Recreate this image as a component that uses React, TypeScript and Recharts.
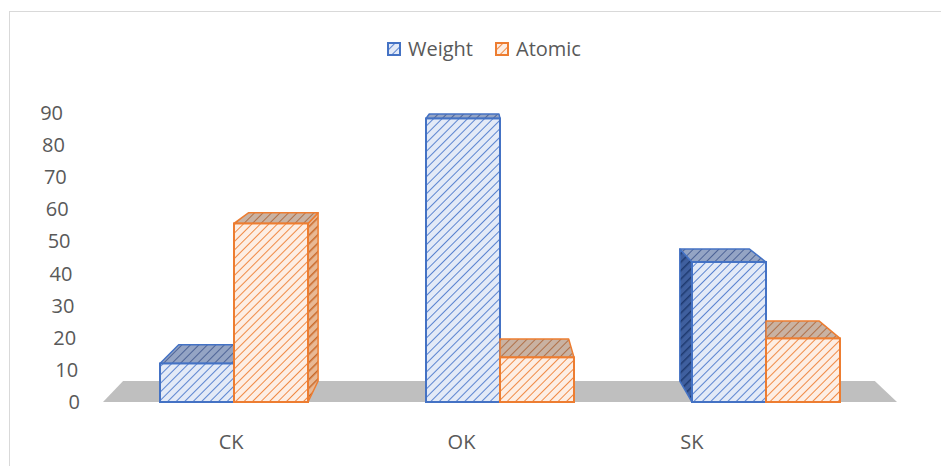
import { Bar, BarChart, ReferenceArea, XAxis, YAxis } from "recharts";

const elements = ["CK", "OK", "SK"];
const weightValues = [12.0, 88.3, 43.6];
const atomicValues = [55.6, 13.9, 19.8];
const yTicks = [0, 10, 20, 30, 40, 50, 60, 70, 80, 90];

const rows = elements.map((name, i) => ({
  name,
  Weight: weightValues[i],
  Atomic: atomicValues[i],
}));

const FONT = "'Open Sans', sans-serif";
const TEXT = "#595959";

// fake perspective: every box edge recedes toward this point
const VX = 482;
const VY = 40;
const DEPTH = 0.058;
const back = (x: number, y: number): [number, number] => [
  x + DEPTH * (VX - x),
  y + DEPTH * (VY - y),
];
const pts = (list: [number, number][]) => list.map((p) => p.join(",")).join(" ");

type Key = "Weight" | "Atomic";

const skins = {
  Weight: { stroke: "#4472c4", front: "url(#blueFront)", top: "url(#blueTop)", side: "url(#blueSide)" },
  Atomic: { stroke: "#ed7d31", front: "url(#orangeFront)", top: "url(#orangeTop)", side: "url(#orangeSide)" },
};

function boxShape(key: Key) {
  const other: Key = key === "Weight" ? "Atomic" : "Weight";
  const skin = skins[key];
  return (props: any) => {
    const { x, y, width, height, payload } = props;
    if (!width || !height) return <g />;
    const x0 = x;
    const x1 = x + width;
    const yt = y;
    const yb = y + height;
    const neighbourTaller = payload[other] > payload[key];

    let [bx0, by] = back(x0, yt);
    let [bx1] = back(x1, yt);
    // the taller neighbour hides the part of the lid that slides behind it
    if (neighbourTaller) {
      if (key === "Weight") bx1 = Math.min(bx1, x1);
      else bx0 = Math.max(bx0, x0);
    }
    const lid = pts([
      [x0, yt],
      [x1, yt],
      [bx1, by],
      [bx0, by],
    ]);

    let side: string | null = null;
    if (key === "Atomic" && x1 < VX) {
      side = pts([[x1, yt], [x1, yb], back(x1, yb), back(x1, yt)]);
    }
    if (key === "Weight" && x0 > VX) {
      side = pts([[x0, yt], [x0, yb], back(x0, yb), back(x0, yt)]);
    }

    return (
      <g>
        {side && (
          <polygon points={side} fill={skin.side} stroke={skin.stroke} strokeWidth={1.5} strokeLinejoin="round" />
        )}
        <polygon points={lid} fill={skin.top} stroke={skin.stroke} strokeWidth={1.5} strokeLinejoin="round" />
        <rect x={x0} y={yt} width={width} height={height} fill={skin.front} stroke={skin.stroke} strokeWidth={2} />
      </g>
    );
  };
}

const weightShape = boxShape("Weight");
const atomicShape = boxShape("Atomic");

function Floor(props: any) {
  const { x, y, width, height } = props;
  const yb = y + height;
  const xr = x + width;
  return <polygon points={pts([[x + 2, yb], [xr - 2, yb], back(xr, yb), back(x, yb)])} fill="#bfbfbf" />;
}

function YTick(props: any) {
  const { x, y, payload } = props;
  // labels lean with the back wall
  const lean = ((90 - payload.value) / 90) * 17;
  return (
    <text x={x - 38 + lean} y={y} dy="0.35em" textAnchor="end" fill={TEXT} fontSize={20} fontFamily={FONT}>
      {payload.value}
    </text>
  );
}

function XTick(props: any) {
  const { x, y, payload } = props;
  return (
    <text x={x} y={y + 17} textAnchor="middle" fill={TEXT} fontSize={20} fontFamily={FONT}>
      {payload.value}
    </text>
  );
}

function Hatch({ id, bg, line, w = 2 }: { id: string; bg: string; line: string; w?: number }) {
  return (
    <pattern id={id} width={6} height={6} patternUnits="userSpaceOnUse" patternTransform="rotate(45)">
      <rect width={6} height={6} fill={bg} />
      <line x1={0} y1={0} x2={0} y2={6} stroke={line} strokeWidth={w} />
    </pattern>
  );
}

function Patterns() {
  return (
    <svg width={0} height={0} style={{ position: "absolute" }}>
      <defs>
        <Hatch id="blueFront" bg="#e3eaf7" line="#5b84d0" />
        <Hatch id="blueTop" bg="#94a4c4" line="#4d6396" />
        <Hatch id="blueSide" bg="#3f5f9e" line="#1f3a70" w={3} />
        <Hatch id="orangeFront" bg="#fdeee4" line="#f08a45" />
        <Hatch id="orangeTop" bg="#c9b2a2" line="#b07048" />
        <Hatch id="orangeSide" bg="#e8b894" line="#c8692a" w={3} />
      </defs>
    </svg>
  );
}

function LegendItem({ label, skin }: { label: string; skin: { stroke: string; front: string } }) {
  return (
    <span style={{ display: "inline-flex", alignItems: "center" }}>
      <svg width={14} height={14} style={{ marginRight: 7 }}>
        <rect x={1} y={1} width={12} height={12} fill={skin.front} stroke={skin.stroke} strokeWidth={2} />
      </svg>
      {label}
    </span>
  );
}

export default function App() {
  return (
    <div
      style={{
        position: "absolute",
        left: 0,
        top: 0,
        width: 941,
        height: 466,
        overflow: "hidden",
        background: "#fff",
      }}
    >
      <Patterns />
      <div
        style={{
          position: "absolute",
          left: 9,
          top: 11,
          width: 1000,
          height: 1000,
          border: "1px solid #d9d9d9",
        }}
      />
      <div
        style={{
          position: "absolute",
          left: 387,
          top: 35,
          display: "flex",
          gap: 22,
          fontFamily: FONT,
          fontSize: 20,
          color: TEXT,
          lineHeight: "28px",
        }}
      >
        <LegendItem label="Weight" skin={skins.Weight} />
        <LegendItem label="Atomic" skin={skins.Atomic} />
      </div>
      <div style={{ position: "absolute", left: 0, top: 0 }}>
        <BarChart
          width={941}
          height={466}
          data={rows}
          margin={{ top: 113, right: 42, bottom: 0, left: 0 }}
          barCategoryGap={59}
          barGap={0}
        >
          <XAxis xAxisId="bars" dataKey="name" hide />
          <XAxis
            xAxisId="labels"
            dataKey="name"
            height={64}
            padding={{ left: 15, right: 92 }}
            axisLine={false}
            tickLine={false}
            tickSize={0}
            tickMargin={0}
            interval={0}
            tick={<XTick />}
          />
          <YAxis
            domain={[0, 90]}
            ticks={yTicks}
            width={101}
            axisLine={false}
            tickLine={false}
            tickSize={0}
            tickMargin={0}
            interval={0}
            tick={<YTick />}
          />
          <ReferenceArea xAxisId="bars" y1={0} y2={5} shape={<Floor />} />
          <Bar xAxisId="bars" dataKey="Weight" shape={weightShape} isAnimationActive={false} />
          <Bar xAxisId="bars" dataKey="Atomic" shape={atomicShape} isAnimationActive={false} />
        </BarChart>
      </div>
    </div>
  );
}
